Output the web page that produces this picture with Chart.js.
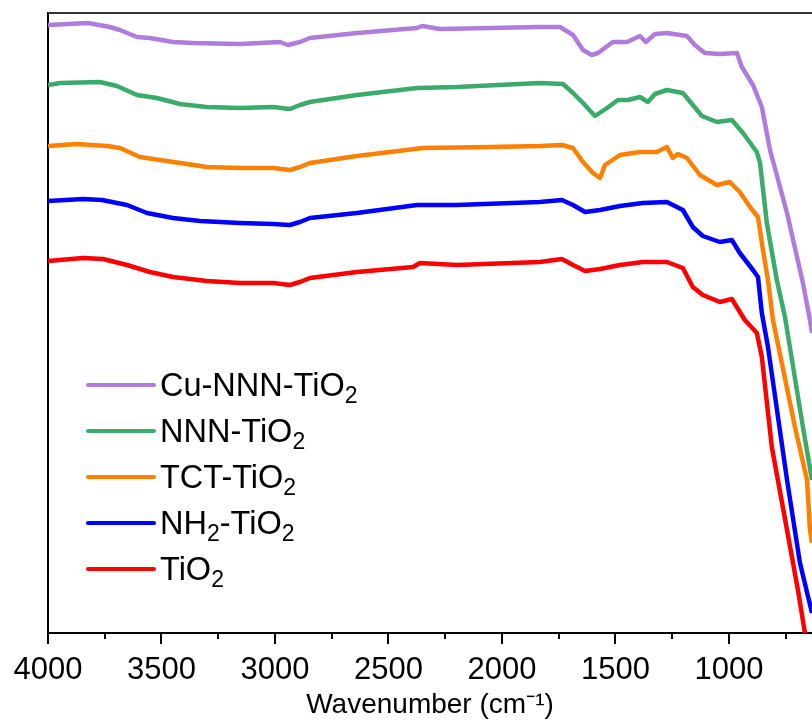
<!DOCTYPE html>
<html>
<head>
<meta charset="utf-8">
<script src="https://cdn.jsdelivr.net/npm/chart.js@4"></script>
<style>
  html, body { margin: 0; padding: 0; background: #fff; }
  #wrap { width: 812px; height: 722px; }
</style>
</head>
<body>
<div id="wrap"><canvas id="canvas" width="812" height="722"></canvas></div>
<script>
// FTIR spectra, [wavenumber (cm-1), transmittance (a.u., offset)]
const cuNNN = [
	[4000, 608], [3824, 610], [3727, 606], [3683, 603], [3608, 596], [3551, 595],
	[3449, 591], [3361, 590], [3154, 589], [2978, 591], [2943, 588], [2890, 591],
	[2846, 595], [2639, 600], [2374, 605], [2352, 607], [2273, 604], [2053, 605],
	[1833, 606], [1744, 606], [1687, 598], [1643, 583], [1604, 578], [1577, 580],
	[1511, 591], [1449, 591], [1392, 597], [1366, 591], [1326, 599], [1273, 600],
	[1185, 597], [1150, 588], [1106, 580], [1040, 579], [965, 580], [943, 566],
	[894, 548], [855, 526], [819, 483], [744, 420], [674, 350], [643, 313], [634, 300],
];
const nnn = [
	[4000, 548], [3947, 550], [3771, 551], [3696, 547], [3608, 538], [3520, 535],
	[3419, 529], [3300, 526], [3154, 525], [3009, 526], [2934, 524], [2890, 528],
	[2846, 531], [2639, 538], [2374, 545], [2198, 546], [1833, 550], [1731, 549],
	[1687, 540], [1643, 530], [1590, 517], [1537, 525], [1489, 533], [1445, 533],
	[1392, 536], [1357, 531], [1326, 539], [1273, 543], [1203, 540], [1159, 528],
	[1119, 517], [1053, 511], [987, 513], [938, 500], [877, 481], [863, 470],
	[833, 410], [789, 353], [753, 316], [674, 206], [634, 153],
];
const tct = [
	[4000, 487], [3872, 489], [3740, 487], [3683, 485], [3595, 476], [3507, 473],
	[3388, 469], [3300, 466], [3154, 465], [3009, 465], [2934, 463], [2890, 466],
	[2846, 470], [2639, 477], [2348, 485], [2053, 486], [1833, 487], [1736, 488],
	[1687, 485], [1643, 471], [1599, 460], [1568, 455], [1546, 468], [1480, 478],
	[1392, 481], [1317, 481], [1273, 486], [1247, 475], [1225, 479], [1185, 475],
	[1128, 458], [1053, 448], [996, 451], [952, 441], [907, 426], [872, 416],
	[850, 383], [828, 353], [806, 313], [709, 206], [656, 153], [643, 103], [634, 90],
];
const nh2 = [
	[4000, 432], [3846, 434], [3762, 433], [3652, 428], [3564, 420], [3449, 415],
	[3330, 412], [3154, 410], [3009, 409], [2934, 408], [2890, 411], [2846, 415],
	[2639, 420], [2374, 428], [2198, 428], [1833, 431], [1736, 433], [1687, 428],
	[1634, 421], [1568, 423], [1480, 427], [1379, 430], [1273, 431], [1203, 423],
	[1159, 406], [1115, 397], [1040, 391], [987, 393], [952, 380], [894, 363],
	[872, 356], [855, 320], [828, 286], [744, 153], [687, 70], [634, 20],
];
const tio2 = [
	[4000, 372], [3846, 375], [3758, 374], [3652, 368], [3551, 361], [3449, 356],
	[3300, 352], [3154, 350], [3009, 350], [2934, 348], [2890, 351], [2846, 355],
	[2639, 361], [2392, 366], [2361, 370], [2198, 368], [1833, 371], [1736, 374],
	[1687, 368], [1634, 362], [1568, 364], [1480, 368], [1379, 371], [1273, 371],
	[1203, 365], [1159, 346], [1115, 338], [1040, 331], [987, 334], [930, 313],
	[877, 300], [855, 276], [811, 186], [744, 103], [696, 43], [665, 0],
];

const seriesNames = ["Cu-NNN-TiO₂", "NNN-TiO₂", "TCT-TiO₂", "NH₂-TiO₂", "TiO₂"];
const seriesData = [cuNNN, nnn, tct, nh2, tio2];
const seriesColors = ["#b07cdc", "#3aab6a", "#ff8000", "#0000ff", "#ff0000"];

const xMajorTicks = [4000, 3500, 3000, 2500, 2000, 1500, 1000];
const xMinorTicks = [3750, 3250, 2750, 2250, 1750, 1250, 750];

const FONT = "'Liberation Sans', Arial, sans-serif";

// top frame line + short minor ticks on the bottom axis
const frameAndTicks = {
	id: "frameAndTicks",
	afterDraw(chart) {
		const { ctx, chartArea: a, scales: { x } } = chart;
		ctx.save();
		ctx.lineWidth = 2;
		ctx.strokeStyle = "#333";
		ctx.beginPath();
		ctx.moveTo(a.left, a.top);
		ctx.lineTo(a.right + 2, a.top);
		ctx.stroke();
		ctx.strokeStyle = "#000";
		xMinorTicks.forEach((v) => {
			const px = Math.round(x.getPixelForValue(v));
			ctx.beginPath();
			ctx.moveTo(px, a.bottom);
			ctx.lineTo(px, a.bottom + 6);
			ctx.stroke();
		});
		ctx.restore();
	},
};

// legend inside the plot, with real subscripts
const subLegend = {
	id: "subLegend",
	afterDraw(chart) {
		const { ctx, chartArea: a } = chart;
		const x0 = a.left + 40;
		const y0 = a.top + 372;
		const gap = 46;
		ctx.save();
		chart.data.datasets.forEach((ds, i) => {
			const y = y0 + i * gap;
			ctx.strokeStyle = ds.borderColor;
			ctx.lineWidth = 4;
			ctx.lineCap = "round";
			ctx.beginPath();
			ctx.moveTo(x0, y);
			ctx.lineTo(x0 + 66, y);
			ctx.stroke();
			let tx = x0 + 72;
			ctx.fillStyle = "#000";
			ctx.textBaseline = "alphabetic";
			ds.label.split(/([\u2080-\u2089]+)/).forEach((part) => {
				if (!part) return;
				if (/[\u2080-\u2089]/.test(part)) {
					const txt = [...part].map((c) => String.fromCharCode(c.charCodeAt(0) - 0x2080 + 48)).join("");
					ctx.font = "23px " + FONT;
					ctx.fillText(txt, tx, y + 18);
					tx += ctx.measureText(txt).width;
				} else {
					ctx.font = "32.5px " + FONT;
					ctx.fillText(part, tx, y + 11);
					tx += ctx.measureText(part).width;
				}
			});
		});
		ctx.restore();
	},
};

new Chart(document.getElementById("canvas"), {
	type: "line",
	data: {
		datasets: seriesNames.map((name, i) => ({
			label: name,
			data: seriesData[i].map(([x, y]) => ({ x, y })),
			borderColor: seriesColors[i],
			backgroundColor: seriesColors[i],
			borderWidth: 4.5,
			pointRadius: 0,
			tension: 0,
			borderJoinStyle: "round",
			fill: false,
		})),
	},
	options: {
		responsive: false,
		animation: false,
		layout: { padding: { top: 13, right: 0, left: 0, bottom: 0 } },
		plugins: { legend: { display: false }, tooltip: { enabled: false } },
		scales: {
			x: {
				type: "linear",
				reverse: true,
				min: 634,
				max: 4000,
				afterBuildTicks: (scale) => {
					scale.ticks = xMajorTicks.map((v) => ({ value: v }));
				},
				afterFit: (scale) => {
					scale.height = 89;
				},
				grid: { drawOnChartArea: false, drawTicks: true, tickLength: 11, color: "#000", lineWidth: 2 },
				border: { color: "#000", width: 2 },
				ticks: {
					color: "#000",
					font: { family: FONT, size: 31 },
					padding: 8,
					maxRotation: 0,
					autoSkip: false,
					callback: (v) => String(v),
				},
				title: {
					display: true,
					text: "Wavenumber (cm⁻¹)",
					color: "#000",
					font: { family: FONT, size: 28 },
					padding: { top: 3, bottom: 0 },
				},
			},
			y: {
				min: 0,
				max: 620,
				afterFit: (scale) => {
					scale.width = 48;
				},
				grid: { display: false, drawTicks: false },
				border: { color: "#000", width: 2 },
				ticks: { display: false },
			},
		},
	},
	plugins: [frameAndTicks, subLegend],
});
</script>
</body>
</html>
